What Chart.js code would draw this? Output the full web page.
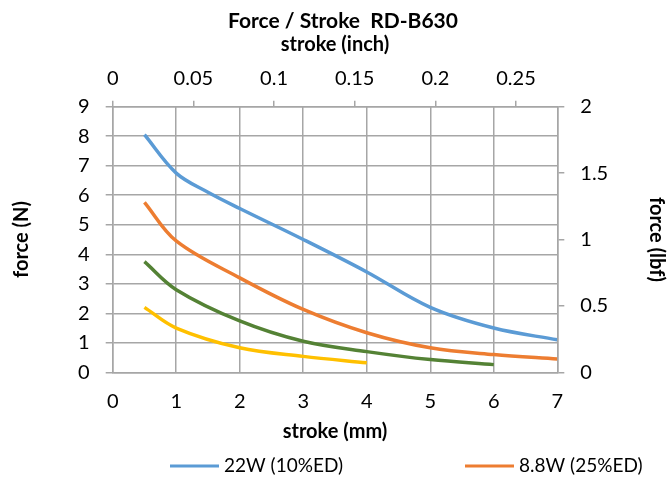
<!DOCTYPE html>
<html>
<head>
<meta charset="utf-8">
<title>Force / Stroke RD-B630</title>
<script src="https://cdn.jsdelivr.net/npm/chart.js@4.4.1/dist/chart.umd.min.js"></script>
<style>
    body { margin: 0; background: #ffffff; }
    #chartBox { width: 668px; height: 477px; }
</style>
</head>
<body>
<div id="chartBox"><canvas id="forceChart" width="668" height="477"></canvas></div>
<script>
// Series data (stroke in mm, force in N)
const seriesLabels = ["22W (10%ED)", "8.8W (25%ED)", "4.4W (50%ED)", "2.2W (100%ED)"];
const seriesColors = ["#5B9BD5", "#ED7D31", "#548235", "#FFC000"];

const stroke22W = [0.5, 1, 1.5, 2, 3, 4, 5, 6, 7];
const force22W = [8.05, 6.75, 6.1, 5.55, 4.5, 3.4, 2.2, 1.5, 1.1];

const stroke8W = [0.5, 1, 2, 3, 4, 5, 6, 7];
const force8W = [5.76, 4.45, 3.2, 2.13, 1.34, 0.83, 0.6, 0.45];

const stroke4W = [0.5, 1, 2, 3, 4, 5, 6];
const force4W = [3.75, 2.8, 1.74, 1.05, 0.7, 0.43, 0.26];

const stroke2W = [0.5, 1, 2, 3, 4];
const force2W = [2.2, 1.5, 0.83, 0.54, 0.32];

// Axis ranges
const mmMax = 7;
const inchMax = mmMax / 25.4;
const newtonMax = 9;
const lbfMax = 2;

const fontName = "Lato";
const gridColor = "#a6a6a6";

function toPoints(xs, ys) {
    return xs.map((x, i) => ({ x: x, y: ys[i] }));
}

const allStrokes = [stroke22W, stroke8W, stroke4W, stroke2W];
const allForces = [force22W, force8W, force4W, force2W];

const datasets = allStrokes.map((xs, i) => ({
    label: seriesLabels[i],
    data: toPoints(xs, allForces[i]),
    borderColor: seriesColors[i],
    backgroundColor: seriesColors[i],
    borderWidth: 3.5,
    pointRadius: 0,
    tension: 0.35,
    fill: false,
    xAxisID: "x",
    yAxisID: "y"
}));

// Title and legend drawn like the Excel original (only two legend entries visible)
const excelDecor = {
    id: "excelDecor",
    afterDraw(chart) {
        const ctx = chart.ctx;
        ctx.save();
        ctx.fillStyle = "#000000";
        ctx.font = "bold 21px " + fontName;
        ctx.textAlign = "center";
        ctx.textBaseline = "middle";
        ctx.fillText("Force / Stroke  RD-B630", 343, 21);

        const legendX = [170, 465];
        ctx.font = "19px " + fontName;
        ctx.textAlign = "left";
        legendX.forEach((lx, i) => {
            const ds = chart.data.datasets[i];
            ctx.strokeStyle = ds.borderColor;
            ctx.lineWidth = 3;
            ctx.beginPath();
            ctx.moveTo(lx, 466);
            ctx.lineTo(lx + 49, 466);
            ctx.stroke();
            ctx.fillStyle = "#000000";
            ctx.fillText(ds.label, lx + 54, 466);
        });
        ctx.restore();
    }
};

const tickFont = { family: fontName, size: 20 };
const titleFont = { family: fontName, size: 20, weight: "bold" };

new Chart(document.getElementById("forceChart"), {
    type: "line",
    data: { datasets: datasets },
    options: {
        responsive: false,
        animation: false,
        layout: { padding: 0 },
        plugins: {
            legend: { display: false },
            title: { display: false },
            tooltip: { enabled: false }
        },
        scales: {
            x: {
                type: "linear",
                position: "bottom",
                min: 0,
                max: mmMax,
                ticks: { stepSize: 1, font: tickFont, color: "#000", padding: 17 },
                grid: { color: gridColor, lineWidth: 1.5, drawTicks: false },
                border: { color: gridColor, width: 1.5 },
                title: { display: true, text: "stroke (mm)", font: titleFont, color: "#000", padding: { bottom: 33 } },
                afterFit: function(scale) { scale.height = 104.7; }
            },
            xInch: {
                type: "linear",
                position: "top",
                min: 0,
                max: inchMax,
                ticks: {
                    stepSize: 0.05, includeBounds: false, font: tickFont, color: "#000", padding: 10,
                    callback: v => String(+v.toFixed(2))
                },
                grid: { color: gridColor, lineWidth: 1.5, drawOnChartArea: false, tickLength: 6 },
                border: { color: gridColor, width: 1.5 },
                title: { display: true, text: "stroke (inch)", font: titleFont, color: "#000", padding: { top: 33 } },
                afterFit: function(scale) { scale.height = 106.7; }
            },
            y: {
                type: "linear",
                position: "left",
                min: 0,
                max: newtonMax,
                ticks: { stepSize: 1, font: tickFont, color: "#000", padding: 16 },
                grid: { color: gridColor, lineWidth: 1.5, tickLength: 7 },
                border: { color: gridColor, width: 1.5 },
                title: { display: true, text: "force (N)", font: titleFont, color: "#000", padding: { top: 10 } },
                afterFit: function(scale) { scale.width = 112.7; }
            },
            yLbf: {
                type: "linear",
                position: "right",
                min: 0,
                max: lbfMax,
                ticks: {
                    stepSize: 0.5, font: tickFont, color: "#000", padding: 16,
                    callback: v => String(+v.toFixed(1))
                },
                grid: { color: gridColor, lineWidth: 1.5, drawOnChartArea: false, tickLength: 7 },
                border: { color: gridColor, width: 1.5 },
                title: { display: true, text: "force (lbf)", font: titleFont, color: "#000", padding: { top: 0 } },
                afterFit: function(scale) { scale.width = 110.7; }
            }
        }
    },
    plugins: [excelDecor]
});
</script>
</body>
</html>
